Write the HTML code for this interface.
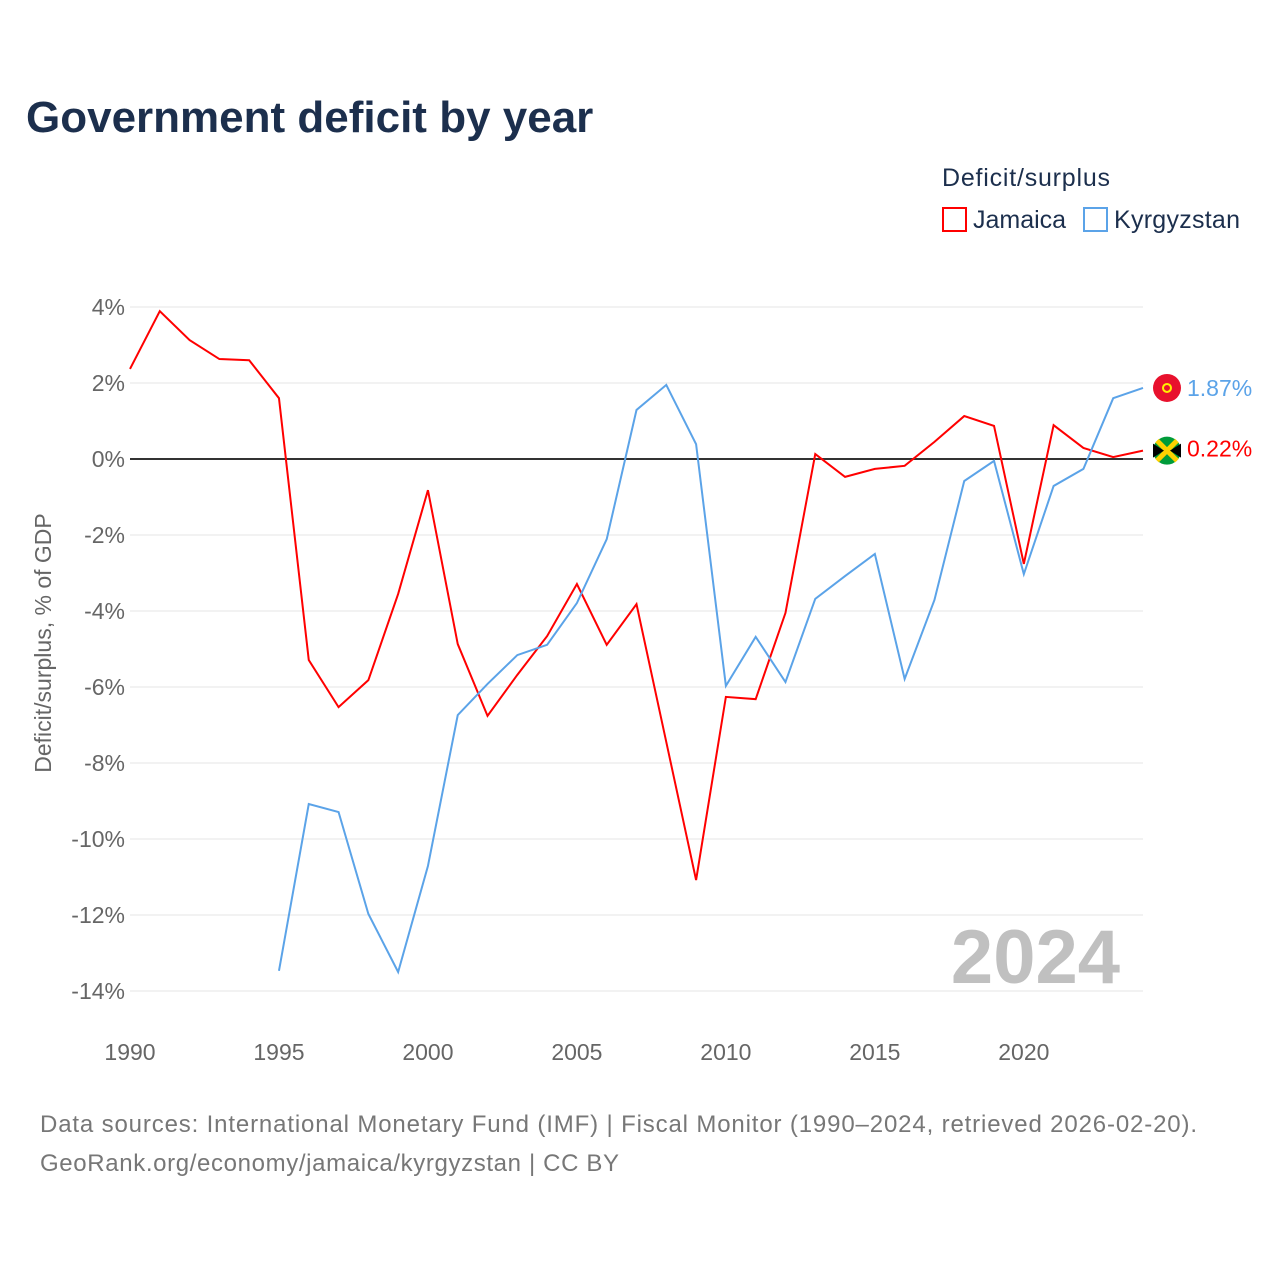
<!DOCTYPE html>
<html><head><meta charset="utf-8"><style>
body{margin:0;width:1280px;height:1280px;background:#fff;font-family:"Liberation Sans",sans-serif;overflow:hidden}
svg{position:absolute;left:0;top:0}
</style></head><body>
<svg id="chart" width="1280" height="1280">
<text x="26" y="132" font-size="44" font-weight="bold" fill="#1c2f4d">Government deficit by year</text>
<text x="942" y="186" font-size="25" fill="#1c2f4d" textLength="168">Deficit/surplus</text>
<g><rect x="943" y="208" width="23" height="23" fill="none" stroke="#ff0000" stroke-width="2"/><text x="973" y="228" font-size="25" fill="#1c2f4d">Jamaica</text></g>
<g><rect x="1084" y="208" width="23" height="23" fill="none" stroke="#5ba3e8" stroke-width="2"/><text x="1114" y="228" font-size="25" fill="#1c2f4d" textLength="126">Kyrgyzstan</text></g>
<g id="grid"></g><g id="yt"></g><g id="xt"></g>
<text x="1120" y="983" font-size="76" font-weight="bold" fill="#c0c0c0" text-anchor="end">2024</text>
<line x1="130" x2="1143" y1="459" y2="459" stroke="#333" stroke-width="2"/>
<g id="series"></g>
<text transform="translate(51,643) rotate(-90)" font-size="23" fill="#666" text-anchor="middle">Deficit/surplus, % of GDP</text>
<text x="40" y="1132" font-size="24" fill="#777" textLength="1157">Data sources: International Monetary Fund (IMF) | Fiscal Monitor (1990–2024, retrieved 2026-02-20).</text>
<text x="40" y="1171" font-size="24" fill="#777" textLength="579">GeoRank.org/economy/jamaica/kyrgyzstan | CC BY</text>
</svg>
<script>
const years=[];for(let y=1990;y<=2024;y++)years.push(y);
const jamaica=[2.37,3.89,3.13,2.63,2.6,1.6,-5.29,-6.53,-5.82,-3.55,-0.82,-4.87,-6.76,-5.68,-4.66,-3.29,-4.89,-3.82,-7.45,-11.08,-6.26,-6.32,-4.05,0.13,-0.47,-0.26,-0.18,0.45,1.13,0.87,-2.76,0.89,0.29,0.05,0.22];
const kyrgyzYears=[1995,1996,1997,1998,1999,2000,2001,2002,2003,2004,2005,2006,2007,2008,2009,2010,2011,2012,2013,2014,2015,2016,2017,2018,2019,2020,2021,2022,2023,2024];
const kyrgyzstan=[-13.47,-9.08,-9.29,-11.97,-13.5,-10.71,-6.74,-5.92,-5.16,-4.89,-3.79,-2.11,1.29,1.95,0.39,-5.97,-4.68,-5.87,-3.68,-3.08,-2.5,-5.79,-3.71,-0.58,-0.05,-3.03,-0.71,-0.26,1.6,1.87];
const yTicks=[4,2,0,-2,-4,-6,-8,-10,-12,-14];
const xTicks=[1990,1995,2000,2005,2010,2015,2020];
const X=y=>130+(y-1990)*(1013/34);
const Y=v=>459-v*38;
const NS="http://www.w3.org/2000/svg";
function mk(t,a,p){const e=document.createElementNS(NS,t);for(const k in a)e.setAttribute(k,a[k]);p.appendChild(e);return e;}
const g=document.getElementById('grid'),yt=document.getElementById('yt'),xt=document.getElementById('xt'),s=document.getElementById('series');
yTicks.forEach(v=>{
 const l=mk('line',{x1:130,x2:1143,y1:Y(v),y2:Y(v),stroke:'#e6e6e6','stroke-width':1},g);
 
 
 const t=mk('text',{x:125,y:Y(v)+8,'font-size':23,fill:'#666','text-anchor':'end'},yt);t.textContent=(v<0?'-':'')+Math.abs(v)+'%';
 
 
});
xTicks.forEach(v=>{
 const t=mk('text',{x:X(v),y:1060,'font-size':23,fill:'#666','text-anchor':'middle'},xt);t.textContent=v;
 
 
});
const pj=mk('polyline',{points:years.map((y,i)=>X(y)+','+Y(jamaica[i])).join(' '),fill:'none',stroke:'#ff0000','stroke-width':2},s);


const pk=mk('polyline',{points:kyrgyzYears.map((y,i)=>X(y)+','+Y(kyrgyzstan[i])).join(' '),fill:'none',stroke:'#5ba3e8','stroke-width':2},s);


const jl=jamaica[jamaica.length-1],kl=kyrgyzstan[kyrgyzstan.length-1];
const ky=Y(kl),jy=Y(jl);
const fk=mk('circle',{cx:1167,cy:ky,r:14,fill:'#e8112d'},s);


mk('circle',{cx:1167,cy:ky,r:4,fill:'none',stroke:'#ffef00','stroke-width':2},s);
const fj=mk('circle',{cx:1167,cy:jy,r:14,fill:'#009b3a'},s);


mk('path',{d:`M1157 ${jy-10} L1177 ${jy+10} M1177 ${jy-10} L1157 ${jy+10}`,stroke:'#fed100','stroke-width':5},s);
mk('path',{d:`M1153 ${jy-7} L1164 ${jy} L1153 ${jy+7}Z`,fill:'#000'},s);
mk('path',{d:`M1181 ${jy-7} L1170 ${jy} L1181 ${jy+7}Z`,fill:'#000'},s);
const tk=mk('text',{x:1187,y:ky+8,'font-size':23,fill:'#5ba3e8'},s);tk.textContent=kl.toFixed(2)+'%';


const tj=mk('text',{x:1187,y:jy+6,'font-size':23,fill:'#ff0000'},s);tj.textContent=jl.toFixed(2)+'%';


</script>
</body></html>
